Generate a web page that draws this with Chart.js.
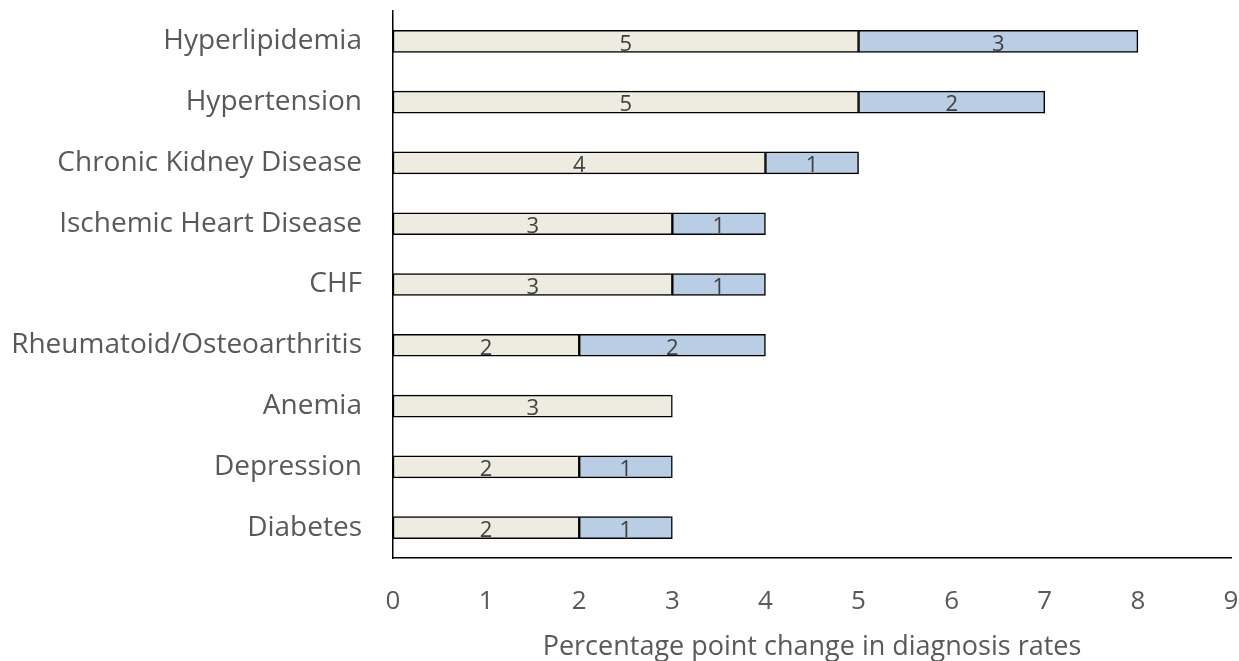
<!DOCTYPE html>
<html>
<head>
<meta charset="utf-8">
<script src="https://cdn.jsdelivr.net/npm/chart.js@4/dist/chart.umd.min.js"></script>
<style>
    html, body { margin: 0; padding: 0; background: #fff; }
    #wrap { width: 1239px; height: 661px; position: relative; }
</style>
</head>
<body>
<div id="wrap"><canvas id="chart"></canvas></div>
<script>
const categories = [
    "Hyperlipidemia",
    "Hypertension",
    "Chronic Kidney Disease",
    "Ischemic Heart Disease",
    "CHF",
    "Rheumatoid/Osteoarthritis",
    "Anemia",
    "Depression",
    "Diabetes",
];
const firstPart = [5, 5, 4, 3, 3, 2, 3, 2, 2];
const secondPart = [3, 2, 1, 1, 1, 2, 0, 1, 1];
const xTicks = [0, 1, 2, 3, 4, 5, 6, 7, 8, 9];
const xTitle = "Percentage point change in diagnosis rates";

const fontFamily = "'Open Sans', 'Noto Sans', sans-serif";
const textGray = "#595959";

// draws the number in the middle of every bar segment (no datalabels plugin here)
const barLabels = {
    id: "barLabels",
    afterDatasetsDraw(chart) {
        const ctx = chart.ctx;
        ctx.save();
        ctx.font = `22px ${fontFamily}`;
        ctx.fillStyle = "#404040";
        ctx.textAlign = "center";
        ctx.textBaseline = "middle";
        chart.data.datasets.forEach((ds, i) => {
            const meta = chart.getDatasetMeta(i);
            meta.data.forEach((bar, j) => {
                const v = ds.data[j];
                if (!v) return;
                const mid = (bar.x + bar.base) / 2;
                ctx.fillText(String(v), mid, bar.y + 3);
            });
        });
        ctx.restore();
    },
};

const ctx = document.getElementById("chart").getContext("2d");
new Chart(ctx, {
    type: "bar",
    data: {
        labels: categories,
        datasets: [
            {
                label: "Part 1",
                data: firstPart,
                backgroundColor: "#EEEBE0",
                borderColor: "#000000",
                borderWidth: 1.5,
                borderSkipped: false,
                barThickness: 22,
            },
            {
                label: "Part 2",
                data: secondPart,
                backgroundColor: "#B9CDE5",
                borderColor: "#000000",
                borderWidth: 1.5,
                borderSkipped: false,
                barThickness: 22,
            },
        ],
    },
    options: {
        indexAxis: "y",
        responsive: true,
        maintainAspectRatio: false,
        animation: false,
        layout: {
            padding: { top: 11, right: 8, left: 0, bottom: 0 },
        },
        plugins: {
            legend: { display: false },
            tooltip: { enabled: false },
        },
        scales: {
            x: {
                stacked: true,
                min: 0,
                max: 9,
                afterBuildTicks: (scale) => {
                    scale.ticks = xTicks.map((v) => ({ value: v }));
                },
                afterFit: (scale) => {
                    scale.height = 103;
                    scale.paddingLeft = 0;
                    scale.paddingRight = 0;
                },
                grid: { display: false, drawTicks: false },
                border: { display: true, color: "#000000", width: 1.5 },
                ticks: {
                    padding: 28,
                    color: textGray,
                    font: { family: fontFamily, size: 26 },
                },
                title: {
                    display: true,
                    text: xTitle,
                    color: textGray,
                    font: { family: fontFamily, size: 27, lineHeight: 1 },
                    padding: { top: 0, bottom: 0 },
                },
            },
            y: {
                stacked: true,
                afterFit: (scale) => {
                    scale.width = 393;
                    scale.paddingTop = 0;
                    scale.paddingBottom = 0;
                },
                grid: { display: false, drawTicks: false },
                border: { display: true, color: "#000000", width: 1.5 },
                ticks: {
                    padding: 31,
                    color: textGray,
                    font: { family: fontFamily, size: 28 },
                },
            },
        },
    },
    plugins: [barLabels],
});
</script>
</body>
</html>
